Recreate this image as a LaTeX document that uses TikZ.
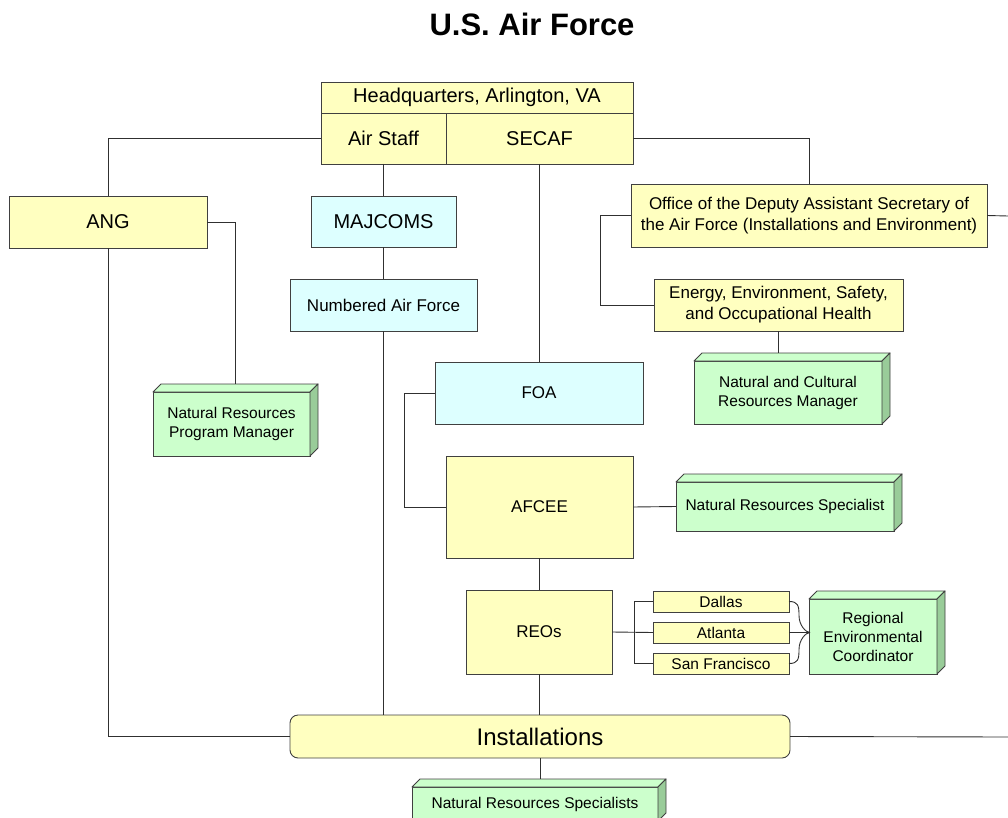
\documentclass[tikz,border=0pt]{standalone}
\usepackage{fontspec}
\setmainfont{Liberation Sans}
\usetikzlibrary{calc}
\definecolor{yel}{HTML}{FFFFC0}
\definecolor{cya}{HTML}{DDFFFF}
\definecolor{grn}{HTML}{CCFFCC}
\definecolor{grnside}{HTML}{99CC99}
\definecolor{bord}{HTML}{404040}
\definecolor{conn}{HTML}{303030}
\tikzset{
  box/.style={draw=bord, line width=0.9pt, inner sep=0pt, outer sep=0pt, align=center, text=black},
  ybox/.style={box, fill=yel},
  cbox/.style={box, fill=cya},
  gbox/.style={box, fill=grn},
  gtop/.style={draw=bord, line width=0.9pt, fill=grn, line join=round},
  gside/.style={draw=bord, line width=0.9pt, fill=grnside, line join=round},
  conn/.style={draw=conn, line width=0.9pt},
  fA/.style={font=\fontsize{20}{24}\selectfont},
  fB/.style={font=\fontsize{17}{21}\selectfont},
  fC/.style={font=\fontsize{15.5}{19}\selectfont},
}
\newcommand\threed[5]{% name, center, width, height, text
  \node[gbox, fC, minimum width=#3, minimum height=#4] (#1) at (#2) {#5};
  \path[gtop] (#1.north west) -- ++(8,-8) -- ([shift={(8,-8)}]#1.north east) -- (#1.north east) -- cycle;
  \path[gside] (#1.north east) -- ++(8,-8) -- ([shift={(8,-8)}]#1.south east) -- (#1.south east) -- cycle;
  \coordinate (#1top) at ([shift={(4,-8)}]#1.north);
}
\begin{document}
\begin{tikzpicture}[x=1pt,y=-1pt]
\clip (0,0) rectangle (1008,818);
\node[font=\bfseries\fontsize{31}{36}\selectfont] (title) at (532,24) {U.S. Air Force};
% headquarters
\node[ybox, fA, minimum width=312pt, minimum height=31pt] (hq) at (477,97.5) {Headquarters, Arlington, VA};
\node[ybox, fA, minimum width=125pt, minimum height=51pt] (airstaff) at (383.5,138.5) {Air Staff};
\node[ybox, fA, minimum width=187pt, minimum height=51pt] (secaf) at (539.5,138.5) {SECAF};
% left
\node[ybox, fA, minimum width=198pt, minimum height=52pt] (ang) at (108,222) {ANG};
\threed{nrpm}{231.5,424}{157pt}{64pt}{Natural Resources\\Program Manager}
\node[cbox, fA, minimum width=145pt, minimum height=51pt] (majcoms) at (383.5,221.5) {MAJCOMS};
\node[cbox, fB, minimum width=187pt, minimum height=52pt] (naf) at (383.5,305) {Numbered Air Force};
% right
\node[ybox, fB, minimum width=356pt, minimum height=63pt] (office) at (809,215.5) {Office of the Deputy Assistant Secretary of\\the Air Force (Installations and Environment)};
\node[ybox, fB, minimum width=249pt, minimum height=52pt] (eesoh) at (778.5,305) {Energy, Environment, Safety,\\and Occupational Health};
\threed{ncrm}{788,392.5}{188pt}{63pt}{Natural and Cultural\\Resources Manager}
% center
\node[cbox, fB, minimum width=208pt, minimum height=62pt] (foa) at (539,393) {FOA};
\node[ybox, fB, minimum width=187pt, minimum height=102pt] (afcee) at (539.5,507) {AFCEE};
\threed{nrs}{785,506.5}{218pt}{49pt}{Natural Resources Specialist}
\node[ybox, fB, minimum width=146pt, minimum height=84pt] (reos) at (539,632) {REOs};
\node[ybox, fC, minimum width=136pt, minimum height=21pt] (dallas) at (721,601.5) {Dallas};
\node[ybox, fC, minimum width=136pt, minimum height=21pt] (atlanta) at (721,632.5) {Atlanta};
\node[ybox, fC, minimum width=136pt, minimum height=21pt] (sf) at (721,663.5) {San Francisco};
\threed{rec}{873,636.5}{128pt}{75pt}{Regional\\Environmental\\Coordinator}
\node[ybox, rounded corners=8pt, font=\fontsize{24}{28}\selectfont, minimum width=500pt, minimum height=43pt] (inst) at (540,736.5) {Installations};
\threed{nrsb}{535,804}{246pt}{34pt}{Natural Resources Specialists}
% free ends
\coordinate (offR) at (1008,216);
\coordinate (instR) at (1008,737);
\coordinate (tip) at (810,632.5);
% connectors
\draw[conn] (airstaff.west) -| (ang.north);
\draw[conn] (secaf.east) -| (office.north);
\draw[conn] (ang.south) |- (inst.west);
\draw[conn] (ang.east) -| (nrpmtop);
\draw[conn] (airstaff.south) -- (majcoms.north);
\draw[conn] (majcoms.south) -- (naf.north);
\draw[conn] (naf.south) -- (naf.south |- inst.north);
\draw[conn] (secaf.south) -- (secaf.south |- foa.north);
\draw[conn] (foa.west) -- ++(-31,0) |- (afcee.west);
\draw[conn] (afcee.east) -- (nrs.west);
\draw[conn] (afcee.south) -- (afcee.south |- reos.north);
\draw[conn] (reos.east) -- (atlanta.west);
\draw[conn] (dallas.west) -- ++(-19,0) |- (sf.west);
\draw[conn] (reos.south) -- (reos.south |- inst.north);
\draw[conn] (inst.south) -- (inst.south |- nrsbtop);
\draw[conn] (office.west) -- ++(-31,0) |- (eesoh.west);
\draw[conn] (eesoh.south) -- (eesoh.south |- ncrmtop);
\draw[conn] (office.east) -- (offR);
\draw[conn] (inst.east) -- (instR);
\draw[conn] (atlanta.east) -- (tip);
\draw[conn] (dallas.east) .. controls +(9,0) and +(0,-10) .. ++(10,14) .. controls +(0,10) and +(-4,0) .. (tip);
\draw[conn] (sf.east) .. controls +(9,0) and +(0,10) .. ++(10,-14) .. controls +(0,-10) and +(-4,0) .. (tip);
\end{tikzpicture}
\end{document}
